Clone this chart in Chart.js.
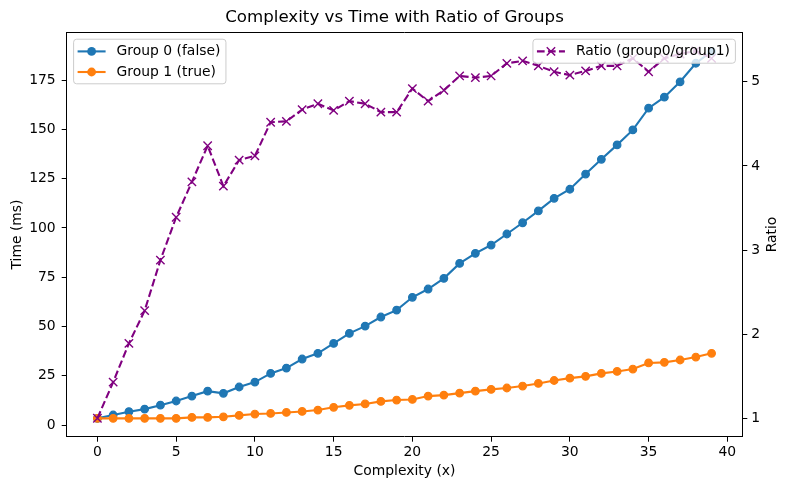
<!DOCTYPE html>
<html>
<head>
<meta charset="utf-8">
<script src="https://cdn.jsdelivr.net/npm/chart.js@4.4.0/dist/chart.umd.min.js"></script>
<style>
  body { margin: 0; background: #fff; }
  #wrap { width: 789px; height: 490px; }
</style>
</head>
<body>
<div id="wrap"><canvas id="chart" width="789" height="490"></canvas></div>
<script>
// data
const complexity = [0, 1, 2, 3, 4, 5, 6, 7, 8, 9, 10, 11, 12, 13, 14, 15, 16, 17, 18, 19,
  20, 21, 22, 23, 24, 25, 26, 27, 28, 29, 30, 31, 32, 33, 34, 35, 36, 37, 38, 39];
const group0 = [3.4, 5.1, 6.8, 8.1, 10.1, 12.2, 14.7, 17.2, 16.1, 19.3, 21.8, 26.2, 28.9, 33.5,
  36.4, 41.4, 46.5, 50.2, 54.8, 58.3, 64.8, 69.0, 74.4, 82.0, 87.1, 91.3, 96.9, 102.6, 108.6,
  115.0, 119.6, 127.3, 134.8, 142.1, 149.7, 160.7, 166.3, 174.1, 183.5, 189.5];
const group1 = [3.4, 3.4, 3.4, 3.4, 3.4, 3.4, 3.9, 3.9, 4.2, 4.9, 5.6, 5.9, 6.4, 6.9, 7.6, 9.0,
  10.0, 10.7, 12.0, 12.7, 13.0, 14.7, 15.2, 16.2, 17.2, 18.1, 18.8, 19.8, 21.1, 22.6, 23.8,
  24.7, 26.2, 27.2, 28.4, 31.5, 31.8, 33.0, 34.5, 36.4];
const ratio = [1.0, 1.43, 1.89, 2.28, 2.88, 3.39, 3.81, 4.24, 3.76, 4.07, 4.12, 4.52, 4.53, 4.67,
  4.74, 4.66, 4.77, 4.74, 4.64, 4.64, 4.92, 4.77, 4.90, 5.07, 5.05, 5.07, 5.22, 5.25, 5.19,
  5.12, 5.08, 5.13, 5.19, 5.19, 5.28, 5.12, 5.28, 5.33, 5.37, 5.28];

const xTicks = [0, 5, 10, 15, 20, 25, 30, 35, 40];
const timeTicks = [0, 25, 50, 75, 100, 125, 150, 175];
const ratioTicks = [1, 2, 3, 4, 5];

const BLUE = '#1f77b4';
const ORANGE = '#ff7f0e';
const PURPLE = '#800080';
const FONT = 'DejaVu Sans';

function pairs(ys) {
  return complexity.map((x, i) => ({ x: x, y: ys[i] }));
}

function fixedTicks(values) {
  return function(scale) {
    scale.ticks = values.map(v => ({ value: v }));
  };
}

function axisStyle(extra) {
  return Object.assign({
    grid: { display: true, drawOnChartArea: false, drawTicks: true, tickLength: 5, tickColor: '#000', tickWidth: 1 },
    border: { display: true, color: '#000', width: 1 }
  }, extra);
}

// box round the plot (top spine), right axis label, and the two legends
const framePlugin = {
  id: 'frame',
  afterDatasetsDraw(chart) {
    const { ctx, chartArea: a } = chart;
    ctx.save();
    ctx.strokeStyle = '#000';
    ctx.lineWidth = 1;
    ctx.beginPath();
    ctx.moveTo(a.left, Math.round(a.top) + 0.5);
    ctx.lineTo(a.right, Math.round(a.top) + 0.5);
    ctx.stroke();
    ctx.restore();
  },
  afterDraw(chart) {
    const a = chart.chartArea;
    const ds = chart.data.datasets;
    const ctx = chart.ctx;
    // matplotlib writes the right ylabel bottom-to-top
    const r = chart.scales.y2;
    ctx.save();
    ctx.translate(r.right - 8.34 - 8.7, (a.top + a.bottom) / 2);
    ctx.rotate(-Math.PI / 2);
    ctx.font = '13.9px "' + FONT + '"';
    ctx.fillStyle = '#000';
    ctx.textAlign = 'center';
    ctx.textBaseline = 'middle';
    ctx.fillText('Ratio', 0, 0);
    ctx.restore();

    drawLegend(ctx, a.left + 6.9, a.top + 6.9, 'left', [ds[0], ds[1]]);
    drawLegend(ctx, a.right - 6.9, a.top + 6.9, 'right', [ds[2]]);
  }
};

function drawMarker(ctx, style, x, y, color) {
  ctx.save();
  if (style === 'circle') {
    ctx.fillStyle = color;
    ctx.beginPath();
    ctx.arc(x, y, 4.4, 0, Math.PI * 2);
    ctx.fill();
  } else {
    ctx.strokeStyle = color;
    ctx.lineWidth = 1.4;
    ctx.setLineDash([]);
    ctx.beginPath();
    ctx.moveTo(x - 4.2, y - 4.2); ctx.lineTo(x + 4.2, y + 4.2);
    ctx.moveTo(x - 4.2, y + 4.2); ctx.lineTo(x + 4.2, y - 4.2);
    ctx.stroke();
  }
  ctx.restore();
}

function drawLegend(ctx, ax, ay, side, items) {
  ctx.save();
  ctx.font = '13.9px "' + FONT + '"';
  let tw = 0;
  items.forEach(d => { tw = Math.max(tw, ctx.measureText(d.label).width); });
  const w = 4 + 28 + 11 + tw + 5.5;
  const h = 24 + (items.length - 1) * 20.6;
  const x0 = side === 'left' ? ax : ax - w;
  const y0 = ay;
  ctx.beginPath();
  ctx.roundRect(x0, y0, w, h, 3);
  ctx.fillStyle = 'rgba(255,255,255,0.8)';
  ctx.fill();
  ctx.strokeStyle = '#cccccc';
  ctx.lineWidth = 1;
  ctx.stroke();
  items.forEach((d, i) => {
    const cy = y0 + 12.2 + i * 20.6;
    const hx = x0 + 4;
    ctx.save();
    ctx.strokeStyle = d.borderColor;
    ctx.lineWidth = 2.1;
    ctx.setLineDash(d.borderDash || []);
    ctx.beginPath();
    ctx.moveTo(hx, cy);
    ctx.lineTo(hx + 28, cy);
    ctx.stroke();
    ctx.restore();
    drawMarker(ctx, d.pointStyle === 'crossRot' ? 'x' : 'circle', hx + 14, cy, d.borderColor);
    ctx.fillStyle = '#000';
    ctx.textBaseline = 'middle';
    ctx.textAlign = 'left';
    ctx.fillText(d.label, hx + 28 + 11, cy);
  });
  ctx.restore();
}

const ctx = document.getElementById('chart').getContext('2d');
new Chart(ctx, {
  type: 'line',
  data: {
    datasets: [
      {
        label: 'Group 0 (false)',
        data: pairs(group0),
        yAxisID: 'y',
        borderColor: BLUE,
        backgroundColor: BLUE,
        borderWidth: 2.1,
        pointStyle: 'circle',
        pointRadius: 3.8,
        pointBorderWidth: 1.2,
        order: 2
      },
      {
        label: 'Group 1 (true)',
        data: pairs(group1),
        yAxisID: 'y',
        borderColor: ORANGE,
        backgroundColor: ORANGE,
        borderWidth: 2.1,
        pointStyle: 'circle',
        pointRadius: 3.8,
        pointBorderWidth: 1.2,
        order: 1
      },
      {
        label: 'Ratio (group0/group1)',
        data: pairs(ratio),
        yAxisID: 'y2',
        borderColor: PURPLE,
        backgroundColor: PURPLE,
        borderWidth: 2.1,
        borderDash: [7.7, 3.3],
        pointStyle: 'crossRot',
        pointRadius: 5.9,
        pointBorderWidth: 1.4,
        order: 0
      }
    ]
  },
  plugins: [framePlugin],
  options: {
    responsive: false,
    animation: false,
    devicePixelRatio: 1,
    layout: { padding: 0 },
    elements: { line: { tension: 0 } },
    plugins: {
      legend: { display: false },
      tooltip: { enabled: false },
      title: {
        display: true,
        text: 'Complexity vs Time with Ratio of Groups',
        color: '#000',
        font: { family: FONT, size: 16.67, weight: 'normal', lineHeight: 1.2 },
        padding: { top: 7.7, bottom: 4.6 }
      }
    },
    scales: {
      x: axisStyle({
        type: 'linear',
        position: 'bottom',
        min: -1.95,
        max: 40.95,
        afterBuildTicks: fixedTicks(xTicks),
        afterFit(scale) { scale.height = 53.3; },
        ticks: { color: '#000', font: { family: FONT, size: 13.9 }, padding: 2.4, maxRotation: 0 },
        title: { display: true, text: 'Complexity (x)', color: '#000', font: { family: FONT, size: 13.9 }, padding: { top: 0, bottom: 10.5 } }
      }),
      y: axisStyle({
        type: 'linear',
        position: 'left',
        min: -5.9,
        max: 199.2,
        afterBuildTicks: fixedTicks(timeTicks),
        afterFit(scale) { scale.width = 66.7; },
        ticks: { color: '#000', font: { family: FONT, size: 13.9 }, padding: 6 },
        title: { display: true, text: 'Time (ms)', color: '#000', font: { family: FONT, size: 13.9 }, padding: { top: 8.7, bottom: 0 } }
      }),
      y2: axisStyle({
        type: 'linear',
        position: 'right',
        min: 0.781,
        max: 5.589,
        afterBuildTicks: fixedTicks(ratioTicks),
        afterFit(scale) { scale.width = 46.7; },
        ticks: { color: '#000', font: { family: FONT, size: 13.9 }, padding: 4 },
        title: { display: false, text: 'Ratio' }
      })
    }
  }
});
</script>
</body>
</html>
